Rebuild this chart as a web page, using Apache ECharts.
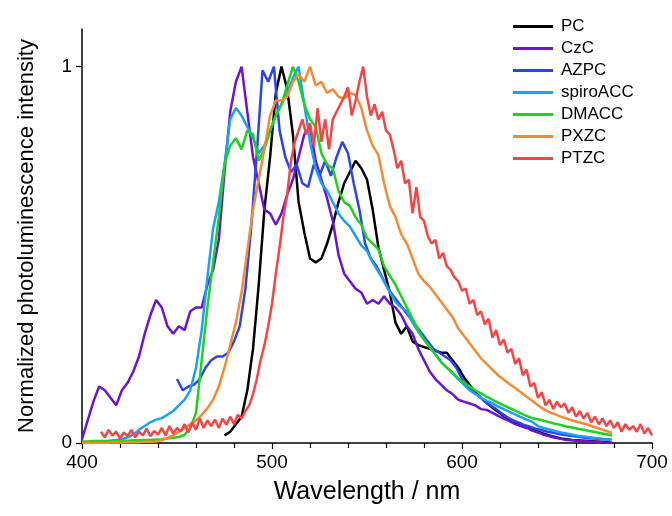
<!DOCTYPE html>
<html>
<head>
<meta charset="utf-8">
<script src="https://cdn.jsdelivr.net/npm/echarts@6/dist/echarts.min.js"></script>
<style>
html,body{margin:0;padding:0;background:#fff;}
#chart{width:672px;height:516px;}
</style>
</head>
<body>
<div id="chart"></div>
<script>
// ---- Data (wavelength grids: start, step in nm) ----
const seriesNames = ['PC','CzC','AZPC','spiroACC','DMACC','PXZC','PTZC'];
const xTickLabels = ['400','500','600','700'];
const yTickValues = [0, 1];

// PC: 475..679 nm, step 3
const pcStart = 475, pcStep = 3;
const pcValues = [
0.02,0.03,0.05,0.07,0.14,0.25,0.42,0.62,0.76,0.93,
1.0,0.94,0.82,0.64,0.56,0.49,0.48,0.49,0.53,0.58,
0.64,0.69,0.72,0.75,0.73,0.70,0.62,0.52,0.46,0.40,
0.32,0.29,0.31,0.27,0.26,0.255,0.25,0.245,0.24,0.24,
0.22,0.2,0.175,0.155,0.135,0.12,0.106,0.094,0.083,0.072,
0.06,0.052,0.046,0.042,0.035,0.03,0.025,0.02,0.016,0.012,
0.01,0.008,0.007,0.006,0.005,0.004,0.003,0.002,0.001];

// CzC: 400..679 nm, step 3
const czcStart = 400, czcStep = 3;
const czcValues = [
0.01,0.06,0.11,0.15,0.14,0.12,0.10,0.14,0.16,0.19,
0.23,0.29,0.34,0.38,0.36,0.31,0.29,0.31,0.30,0.35,
0.36,0.36,0.42,0.46,0.54,0.72,0.88,0.96,1.0,0.88,
0.76,0.69,0.62,0.61,0.58,0.61,0.66,0.70,0.76,0.82,
0.84,0.75,0.70,0.65,0.59,0.50,0.45,0.43,0.41,0.40,
0.37,0.38,0.37,0.39,0.37,0.36,0.34,0.31,0.29,0.25,
0.22,0.19,0.17,0.155,0.14,0.13,0.115,0.11,0.105,0.10,
0.09,0.088,0.08,0.072,0.065,0.058,0.05,0.045,0.04,0.033,
0.028,0.022,0.018,0.014,0.011,0.008,0.007,0.006,0.005,0.004,
0.003,0.002,0.001,0.0];

// AZPC: 450..678 nm, step 3
const azpcStart = 450, azpcStep = 3;
const azpcValues = [
0.17,0.14,0.15,0.155,0.17,0.20,0.22,0.23,0.23,0.24,
0.27,0.31,0.41,0.57,0.77,0.99,0.96,1.0,0.83,0.76,
0.72,0.74,0.69,0.68,0.74,0.71,0.75,0.71,0.76,0.80,
0.77,0.69,0.62,0.53,0.49,0.47,0.44,0.41,0.39,0.37,
0.35,0.33,0.31,0.29,0.27,0.25,0.24,0.23,0.22,0.20,
0.17,0.15,0.135,0.125,0.11,0.10,0.09,0.078,0.068,0.06,
0.054,0.047,0.043,0.038,0.034,0.03,0.027,0.024,0.021,0.019,
0.017,0.015,0.013,0.012,0.011,0.01,0.009];

// spiroACC: 400..679 nm, step 3
const spiroStart = 400, spiroStep = 3;
const spiroValues = [
0,0,0,0.002,0.004,0.006,0.008,0.01,0.015,0.022,
0.035,0.045,0.055,0.062,0.066,0.075,0.085,0.1,0.115,0.14,
0.2,0.3,0.44,0.57,0.64,0.74,0.86,0.89,0.87,0.84,
0.81,0.77,0.79,0.83,0.87,0.90,0.93,0.97,1.0,0.90,
0.80,0.73,0.69,0.67,0.64,0.61,0.59,0.575,0.55,0.525,
0.51,0.48,0.455,0.43,0.40,0.375,0.36,0.35,0.32,0.295,
0.275,0.255,0.235,0.215,0.2,0.185,0.17,0.155,0.14,0.13,
0.12,0.112,0.106,0.097,0.09,0.083,0.076,0.069,0.062,0.056,
0.045,0.04,0.036,0.032,0.028,0.025,0.022,0.019,0.017,0.015,
0.013,0.011,0.01,0.009];

// DMACC: 400..679 nm, step 3
const dmaccStart = 400, dmaccStep = 3;
const dmaccValues = [
0.004,0.004,0.005,0.005,0.005,0.005,0.006,0.006,0.006,0.007,
0.007,0.008,0.008,0.009,0.01,0.012,0.014,0.016,0.022,0.04,
0.08,0.22,0.36,0.48,0.6,0.74,0.79,0.81,0.78,0.83,
0.82,0.75,0.78,0.83,0.87,0.9,0.95,1.0,0.96,0.9,
0.86,0.84,0.77,0.74,0.73,0.67,0.64,0.63,0.6,0.58,
0.545,0.53,0.515,0.47,0.445,0.42,0.39,0.36,0.33,0.3,
0.275,0.256,0.235,0.215,0.2,0.188,0.172,0.16,0.15,0.14,
0.132,0.123,0.115,0.107,0.1,0.093,0.086,0.079,0.072,0.066,
0.063,0.059,0.055,0.051,0.048,0.044,0.041,0.038,0.035,0.032,
0.029,0.026,0.023,0.02];

// PXZC: 400..679 nm, step 3
const pxzcStart = 400, pxzcStep = 3;
const pxzcValues = [
0,0,0,0,0,0.001,0.001,0.001,0.002,0.002,
0.002,0.003,0.003,0.004,0.008,0.013,0.02,0.03,0.04,0.05,
0.06,0.075,0.092,0.115,0.15,0.2,0.26,0.32,0.4,0.51,
0.62,0.7,0.78,0.87,0.91,0.91,0.92,0.96,0.98,0.96,
1.0,0.95,0.96,0.93,0.94,0.92,0.915,0.93,0.925,0.89,
0.83,0.79,0.765,0.69,0.63,0.6,0.555,0.53,0.49,0.45,
0.43,0.415,0.395,0.375,0.355,0.335,0.305,0.285,0.265,0.245,
0.225,0.21,0.195,0.18,0.168,0.157,0.146,0.135,0.123,0.112,
0.1,0.09,0.082,0.076,0.07,0.065,0.06,0.056,0.052,0.047,
0.042,0.037,0.032,0.027];

// PTZC: 410..700 nm, step 2
const ptzcStart = 410, ptzcStep = 2;
const ptzcValues = [
0.03,0.015,0.035,0.02,0.03,0.012,0.028,0.018,0.035,0.015,
0.03,0.02,0.038,0.018,0.032,0.022,0.04,0.02,0.045,0.025,
0.04,0.03,0.05,0.028,0.055,0.035,0.065,0.04,0.06,0.045,
0.062,0.04,0.065,0.048,0.07,0.05,0.075,0.065,0.085,0.1,
0.13,0.17,0.22,0.26,0.31,0.37,0.45,0.52,0.6,0.66,
0.75,0.8,0.83,0.86,0.82,0.85,0.79,0.89,0.8,0.86,
0.78,0.86,0.88,0.9,0.92,0.945,0.87,0.91,0.96,1.0,
0.92,0.87,0.9,0.86,0.88,0.83,0.82,0.78,0.73,0.75,
0.69,0.7,0.61,0.68,0.6,0.59,0.55,0.53,0.54,0.49,
0.505,0.47,0.46,0.44,0.43,0.405,0.41,0.37,0.38,0.34,
0.35,0.315,0.33,0.28,0.3,0.26,0.275,0.24,0.25,0.21,
0.225,0.18,0.195,0.15,0.16,0.12,0.135,0.1,0.115,0.09,
0.11,0.095,0.105,0.08,0.095,0.07,0.085,0.065,0.08,0.055,
0.07,0.05,0.065,0.045,0.06,0.04,0.055,0.03,0.05,0.035,
0.045,0.03,0.05,0.025,0.04,0.02];

// ---- Build ----
const FONT = '"Liberation Sans", Arial, sans-serif';
const colors = ['#000000','#6e12d4','#2a44ef','#17a2f5','#1ed21e','#f58a32','#f84444'];
function pairs(start, step, vals){ return vals.map((v,i)=>[start+step*i, v]); }
const seriesData = [
  pairs(pcStart, pcStep, pcValues),
  pairs(czcStart, czcStep, czcValues),
  pairs(azpcStart, azpcStep, azpcValues),
  pairs(spiroStart, spiroStep, spiroValues),
  pairs(dmaccStart, dmaccStep, dmaccValues),
  pairs(pxzcStart, pxzcStep, pxzcValues),
  pairs(ptzcStart, ptzcStep, ptzcValues)
];

const chart = echarts.init(document.getElementById('chart'), null, {renderer:'canvas'});
chart.setOption({
  animation: false,
  backgroundColor: '#ffffff',
  color: colors,
  textStyle: { fontFamily: FONT },
  grid: { left: 82, right: 20, top: 29, bottom: 73, containLabel: false },
  legend: {
    orient: 'vertical', left: 508, top: 13,
    icon: 'rect', itemWidth: 40, itemHeight: 3, itemGap: 5,
    textStyle: { fontSize: 17, color: '#000', fontFamily: FONT, padding: [0,0,0,3] },
    data: seriesNames
  },
  xAxis: {
    type: 'value', min: 400, max: 700, interval: 100,
    name: 'Wavelength / nm', nameLocation: 'middle', nameGap: 37,
    nameTextStyle: { fontSize: 25, color: '#000', fontFamily: FONT },
    axisLine: { show: true, onZero: false, lineStyle: { color: '#000', width: 1.5 } },
    axisTick: { show: true, length: 6, lineStyle: { color: '#000', width: 1.2 } },
    minorTick: { show: true, splitNumber: 5, length: 5, lineStyle: { color: '#000', width: 1.2 } },
    axisLabel: { fontSize: 19, color: '#000', margin: 10, fontFamily: FONT,
      formatter: v => xTickLabels.includes(String(v)) ? String(v) : '' },
    splitLine: { show: false }
  },
  yAxis: {
    type: 'value', min: 0, max: 1.1, interval: 1,
    name: 'Normalized photoluminescence intensity', nameLocation: 'middle', nameGap: 44, nameRotate: 90,
    nameTextStyle: { fontSize: 22, color: '#000', fontFamily: FONT },
    axisLine: { show: true, onZero: false, lineStyle: { color: '#000', width: 1.5 } },
    axisTick: { show: true, length: 6, customValues: yTickValues, lineStyle: { color: '#000', width: 1.2 } },
    axisLabel: { fontSize: 19, color: '#000', margin: 10, customValues: yTickValues, fontFamily: FONT },
    splitLine: { show: false }
  },
  series: seriesNames.map((n, i) => ({
    name: n, type: 'line', data: seriesData[i], showSymbol: false, symbol: 'none',
    lineStyle: { width: 2.5, color: colors[i] }, itemStyle: { color: colors[i] },
    z: 2 + i
  }))
});
</script>
</body>
</html>
